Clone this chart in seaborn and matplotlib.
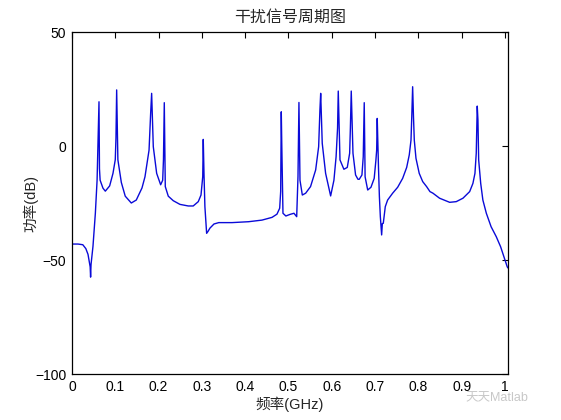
import numpy as np
import pandas as pd
import matplotlib
matplotlib.use("Agg")
import matplotlib.pyplot as plt
import seaborn as sns

# periodogram of the jamming signal
freq_ghz = [
    0.000, 0.014, 0.025, 0.032, 0.037, 0.042, 0.043, 0.044, 0.0485, 0.054,
    0.058, 0.0612, 0.0624, 0.0635, 0.065, 0.0716, 0.077, 0.087, 0.0947, 0.100,
    0.1016, 0.1032, 0.106, 0.114, 0.123, 0.137, 0.1485, 0.1617, 0.1686, 0.178,
    0.1817, 0.184, 0.1878, 0.1956, 0.2048, 0.2095, 0.2113, 0.2132, 0.2155, 0.2224,
    0.234, 0.2494, 0.2686, 0.280, 0.2917, 0.298, 0.302, 0.3032, 0.305, 0.307,
    0.311, 0.314, 0.3187, 0.328, 0.339, 0.3695, 0.408, 0.4388, 0.462, 0.4734,
    0.4797, 0.482, 0.4834, 0.4845, 0.4873, 0.494, 0.5035, 0.5127, 0.519, 0.522,
    0.5242, 0.5266, 0.532, 0.5397, 0.551, 0.5628, 0.5697, 0.5727, 0.5744, 0.578,
    0.5858, 0.5974, 0.605, 0.610, 0.6134, 0.615, 0.619, 0.628, 0.6358, 0.6413,
    0.643, 0.645, 0.649, 0.655, 0.6605, 0.6635, 0.6697, 0.6727, 0.675, 0.677,
    0.683, 0.6905, 0.698, 0.702, 0.7037, 0.705, 0.708, 0.710, 0.7122, 0.7152,
    0.7168, 0.719, 0.7236, 0.729, 0.7406, 0.7522, 0.7637, 0.773, 0.779, 0.783,
    0.7848, 0.7868, 0.7887, 0.7906, 0.7945, 0.802, 0.810, 0.819, 0.8268, 0.8337,
    0.849, 0.8723, 0.8875, 0.903, 0.9185, 0.926, 0.9307, 0.9337, 0.936, 0.9376,
    0.9393, 0.944, 0.949, 0.957, 0.968, 0.980, 0.990, 0.9977, 1.0053, 1.007,
]
power_db = [
    -43.0, -43.0, -43.3, -45.0, -47.5, -53.0, -57.5, -52.0, -44.0, -29.5,
    -15.0, 10.0, 19.4, -10.0, -15.0, -18.5, -19.8, -17.5, -12.0, -6.0,
    3.5, 24.6, -6.0, -16.0, -22.0, -25.0, -23.7, -18.4, -13.5, -1.8,
    14.3, 23.1, -0.3, -12.0, -17.0, -15.0, -6.0, 19.0, -17.8, -22.0,
    -24.0, -25.6, -26.3, -26.3, -24.4, -21.5, -13.4, 2.9, -13.0, -26.6,
    -38.3, -37.5, -36.0, -34.2, -33.6, -33.6, -33.2, -32.5, -31.3, -29.9,
    -27.3, -20.0, 15.0, 1.3, -29.5, -30.7, -30.0, -29.5, -31.0, -13.4,
    19.1, -15.0, -21.5, -20.7, -17.8, -10.5, -0.3, 16.0, 23.1, 1.2,
    -12.0, -21.9, -15.0, -4.7, 7.9, 24.1, -6.1, -10.2, -9.4, -3.2,
    7.9, 24.1, -3.2, -12.7, -14.6, -14.6, -12.7, -4.7, 19.0, -13.5,
    -19.3, -18.1, -14.2, -6.1, -1.8, 12.1, -10.0, -22.2, -31.0, -39.0,
    -34.0, -33.9, -26.6, -23.7, -20.7, -18.1, -14.2, -9.4, -3.9, 2.6,
    12.9, 26.0, 13.0, 2.6, -5.4, -12.0, -15.6, -17.8, -20.0, -20.7,
    -22.9, -24.7, -24.4, -22.9, -20.0, -16.4, -12.0, -3.2, 17.5, 11.4,
    -6.1, -16.4, -23.7, -29.5, -35.4, -39.8, -44.2, -48.6, -53.0, -53.5,
]

x_ticks = [0, 0.1, 0.2, 0.3, 0.4, 0.5, 0.6, 0.7, 0.8, 0.9, 1]
x_tick_labels = ["0", "0.1", "0.2", "0.3", "0.4", "0.5", "0.6", "0.7", "0.8", "0.9", "1"]
y_ticks = [-100, -50, 0, 50]

df = pd.DataFrame({"freq": freq_ghz, "power": power_db})

sns.set_style("white")
plt.rcParams["font.family"] = ["Liberation Sans", "Noto Sans CJK SC", "DejaVu Sans"]

fig = plt.figure(figsize=(5.61, 4.20), dpi=100)
ax = fig.add_axes([0.1283, 0.1095, 0.7772, 0.8143])

sns.lineplot(data=df, x="freq", y="power", ax=ax, color="#0a0ad8",
             linewidth=1.0, estimator=None, sort=False)

ax.set_xlim(0, 1.007)
ax.set_ylim(-100, 50)
ax.set_xticks(x_ticks)
ax.set_xticklabels(x_tick_labels)
ax.set_yticks(y_ticks)
ax.tick_params(direction="in", top=True, right=True, length=4, width=0.8,
               labelsize=10, colors="black", pad=4)
for s in ax.spines.values():
    s.set_color("black")
    s.set_linewidth(0.9)

ax.set_title("干扰信号周期图", fontsize=11.5, pad=7)
ax.set_xlabel("频率(GHz)", fontsize=10.5, labelpad=2)
ax.set_ylabel("功率(dB)", fontsize=10.5, labelpad=-2)

# watermark
fig.text(0.885, 0.052, "天天Matlab", fontsize=9, color="#c8c8c8",
         ha="center", va="center")

fig.savefig("out.png", dpi=100)
